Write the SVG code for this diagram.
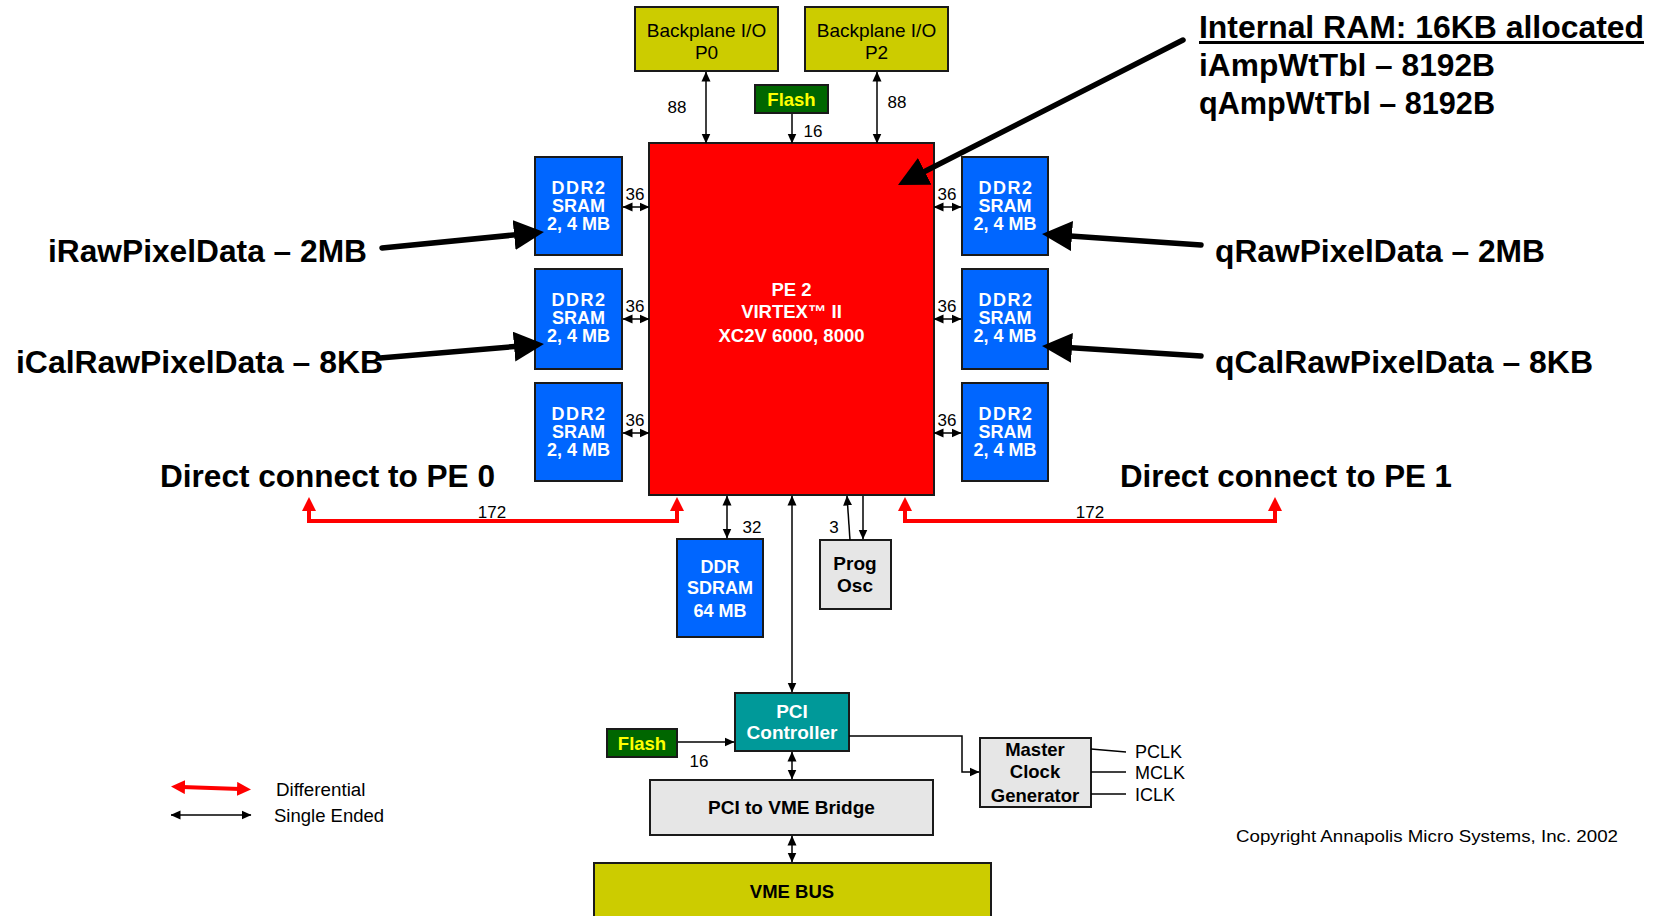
<svg xmlns="http://www.w3.org/2000/svg" width="1657" height="916" viewBox="0 0 1657 916">
<style>
text{font-family:'Liberation Sans',Arial,Helvetica,sans-serif;fill:#000}
.bx{stroke:#1a1a1a;stroke-width:2}
.blue{fill:#0066FF}
.redf{fill:#FF0000}
.olive{fill:#CCCC00}
.gray{fill:#E6E6E6}
.teal{fill:#009999}
.green{fill:#006600}
.b{font-weight:bold}
.w{fill:#FFFFFF}
.y{fill:#FFFF00}
.m{text-anchor:middle}
.s17{font-size:17px}
.s18{font-size:18px}
.s19{font-size:19px}
.box18{font-size:18.5px;font-weight:bold;text-anchor:middle}
.ddr{font-size:18px;font-weight:bold;fill:#FFFFFF;text-anchor:middle}
.num{font-size:17px;text-anchor:middle}
.lab{font-size:31px;font-weight:bold}
.ln{stroke:#000;stroke-width:1.5;fill:none}
.rd{stroke:#FF0000;stroke-width:4;fill:none}
.big{stroke:#000;stroke-width:5.5;stroke-linecap:round;fill:none}
</style>
<defs>
<marker id="ah" viewBox="0 0 10 10" refX="9.5" refY="5" markerWidth="10" markerHeight="10" markerUnits="userSpaceOnUse" orient="auto-start-reverse"><path d="M0,0.5 L10,5 L0,9.5 z" fill="#000"/></marker>
<marker id="ahr" viewBox="0 0 14 14" refX="3" refY="7" markerWidth="14" markerHeight="14" markerUnits="userSpaceOnUse" orient="auto-start-reverse"><path d="M0,0 L14,7 L0,14 z" fill="#FF0000"/></marker>
<marker id="ahb" viewBox="0 0 30 30" refX="20" refY="15" markerWidth="30" markerHeight="30" markerUnits="userSpaceOnUse" orient="auto"><path d="M0,0 L30,15 L0,30 z" fill="#000"/></marker>
</defs>

<g id="bp0"><rect class="bx olive" x="635" y="7" width="143" height="64"/><text class="s19 m" x="706.5" y="37">Backplane I/O</text><text class="s19 m" x="706.5" y="59">P0</text></g>
<g id="bp2"><rect class="bx olive" x="805" y="7" width="143" height="64"/><text class="s19 m" x="876.5" y="37">Backplane I/O</text><text class="s19 m" x="876.5" y="59">P2</text></g>
<g id="flash1"><rect class="bx green" x="755" y="85" width="73" height="28"/><text class="box18 y" x="791.5" y="105.5">Flash</text></g>
<g id="pe2"><rect class="bx redf" x="649" y="143" width="285" height="352"/>
<text class="box18 w" x="791.5" y="296">PE 2</text>
<text class="box18 w" x="791.5" y="318">VIRTEX™ II</text>
<text class="box18 w" x="791.5" y="342">XC2V 6000, 8000</text></g>

<g id="sramL1"><rect class="bx blue" x="535" y="157" width="87" height="98"/><text class="ddr" x="579" y="194" letter-spacing="1.5">DDR2</text><text class="ddr" x="578.5" y="212">SRAM</text><text class="ddr" x="578.5" y="230">2, 4 MB</text></g>
<g id="sramL2"><rect class="bx blue" x="535" y="269" width="87" height="100"/><text class="ddr" x="579" y="306" letter-spacing="1.5">DDR2</text><text class="ddr" x="578.5" y="324">SRAM</text><text class="ddr" x="578.5" y="342">2, 4 MB</text></g>
<g id="sramL3"><rect class="bx blue" x="535" y="383" width="87" height="98"/><text class="ddr" x="579" y="420" letter-spacing="1.5">DDR2</text><text class="ddr" x="578.5" y="438">SRAM</text><text class="ddr" x="578.5" y="456">2, 4 MB</text></g>
<g id="sramR1"><rect class="bx blue" x="962" y="157" width="86" height="98"/><text class="ddr" x="1006" y="194" letter-spacing="1.5">DDR2</text><text class="ddr" x="1005" y="212">SRAM</text><text class="ddr" x="1005" y="230">2, 4 MB</text></g>
<g id="sramR2"><rect class="bx blue" x="962" y="269" width="86" height="100"/><text class="ddr" x="1006" y="306" letter-spacing="1.5">DDR2</text><text class="ddr" x="1005" y="324">SRAM</text><text class="ddr" x="1005" y="342">2, 4 MB</text></g>
<g id="sramR3"><rect class="bx blue" x="962" y="383" width="86" height="98"/><text class="ddr" x="1006" y="420" letter-spacing="1.5">DDR2</text><text class="ddr" x="1005" y="438">SRAM</text><text class="ddr" x="1005" y="456">2, 4 MB</text></g>

<g id="sdram"><rect class="bx blue" x="677" y="539" width="86" height="98"/><text class="ddr y" x="720" y="573">DDR</text><text class="ddr y" x="720" y="594">SDRAM</text><text class="ddr y" x="720" y="617">64 MB</text></g>
<g id="progosc"><rect class="bx gray" x="820" y="540" width="71" height="69"/><text class="box18" x="855" y="570" style="font-size:19px">Prog</text><text class="box18" x="855" y="592" style="font-size:19px">Osc</text></g>
<g id="pcictrl"><rect class="bx teal" x="735" y="693" width="114" height="58"/><text class="box18 w" x="792" y="718" style="font-size:19px">PCI</text><text class="box18 w" x="792" y="739" style="font-size:19px">Controller</text></g>
<g id="flash2"><rect class="bx green" x="607" y="729" width="70" height="28"/><text class="box18 y" x="642" y="749.5">Flash</text></g>
<g id="bridge"><rect class="bx gray" x="650" y="780" width="283" height="55"/><text class="box18" x="791.5" y="814" style="font-size:19px">PCI to VME Bridge</text></g>
<g id="vmebus"><rect class="bx olive" x="594" y="863" width="397" height="70"/><text class="box18" x="792" y="898">VME BUS</text></g>
<g id="mcg"><rect class="bx gray" x="980" y="738" width="111" height="69"/><text class="box18" x="1035" y="756">Master</text><text class="box18" x="1035" y="778">Clock</text><text class="box18" x="1035" y="802">Generator</text></g>
<g id="clocks"><text class="s18" x="1135" y="758">PCLK</text><text class="s18" x="1135" y="779">MCLK</text><text class="s18" x="1135" y="801">ICLK</text></g>

<g id="connectors">
<line class="ln" x1="706" y1="72" x2="706" y2="143" marker-start="url(#ah)" marker-end="url(#ah)"/>
<line class="ln" x1="792" y1="114" x2="792" y2="143" marker-end="url(#ah)"/>
<line class="ln" x1="877" y1="72" x2="877" y2="143" marker-start="url(#ah)" marker-end="url(#ah)"/>
<line class="ln" x1="623" y1="207" x2="649" y2="207" marker-start="url(#ah)" marker-end="url(#ah)"/>
<line class="ln" x1="623" y1="319" x2="649" y2="319" marker-start="url(#ah)" marker-end="url(#ah)"/>
<line class="ln" x1="623" y1="433" x2="649" y2="433" marker-start="url(#ah)" marker-end="url(#ah)"/>
<line class="ln" x1="934" y1="207" x2="961" y2="207" marker-start="url(#ah)" marker-end="url(#ah)"/>
<line class="ln" x1="934" y1="319" x2="961" y2="319" marker-start="url(#ah)" marker-end="url(#ah)"/>
<line class="ln" x1="934" y1="433" x2="961" y2="433" marker-start="url(#ah)" marker-end="url(#ah)"/>
<line class="ln" x1="727" y1="496" x2="727" y2="538" marker-start="url(#ah)" marker-end="url(#ah)"/>
<line class="ln" x1="792" y1="496" x2="792" y2="692" marker-start="url(#ah)" marker-end="url(#ah)"/>
<line class="ln" x1="850" y1="540" x2="847" y2="496" marker-end="url(#ah)"/>
<line class="ln" x1="863" y1="496" x2="863" y2="539" marker-end="url(#ah)"/>
<line class="ln" x1="792" y1="752" x2="792" y2="779" marker-start="url(#ah)" marker-end="url(#ah)"/>
<line class="ln" x1="792" y1="836" x2="792" y2="862" marker-start="url(#ah)" marker-end="url(#ah)"/>
<line class="ln" x1="678" y1="742" x2="734" y2="742" marker-end="url(#ah)"/>
<path class="ln" d="M849,736 H962 V772 H979" marker-end="url(#ah)"/>
<line class="ln" x1="1091" y1="749" x2="1126" y2="752"/>
<line class="ln" x1="1091" y1="772" x2="1126" y2="772"/>
<line class="ln" x1="1091" y1="794" x2="1126" y2="794"/>
<path class="rd" d="M309,508 V521 H677 V508" marker-start="url(#ahr)" marker-end="url(#ahr)"/>
<path class="rd" d="M905,508 V521 H1275 V508" marker-start="url(#ahr)" marker-end="url(#ahr)"/>
<line class="big" x1="1183" y1="40" x2="906.9" y2="180.5" marker-end="url(#ahb)"/>
<line class="big" x1="382" y1="248" x2="534" y2="233" marker-end="url(#ahb)"/>
<line class="big" x1="380" y1="358" x2="534" y2="344.9" marker-end="url(#ahb)"/>
<line class="big" x1="1201" y1="245" x2="1052" y2="234.7" marker-end="url(#ahb)"/>
<line class="big" x1="1201" y1="356" x2="1052" y2="346.6" marker-end="url(#ahb)"/>
<text class="num" x="677" y="113">88</text>
<text class="num" x="897" y="108">88</text>
<text class="num" x="813" y="137">16</text>
<text class="num" x="635" y="200">36</text>
<text class="num" x="635" y="312">36</text>
<text class="num" x="635" y="426">36</text>
<text class="num" x="947" y="200">36</text>
<text class="num" x="947" y="312">36</text>
<text class="num" x="947" y="426">36</text>
<text class="num" x="492" y="518">172</text>
<text class="num" x="1090" y="518">172</text>
<text class="num" x="752" y="533">32</text>
<text class="num" x="834" y="533">3</text>
<text class="num" x="699" y="767">16</text>
</g>

<g id="annotations">
<text class="lab" x="1199" y="38" textLength="445" lengthAdjust="spacingAndGlyphs">Internal RAM: 16KB allocated</text>
<rect x="1199" y="41" width="445" height="3" fill="#000"/>
<text class="lab" x="1199" y="76" textLength="296" lengthAdjust="spacingAndGlyphs">iAmpWtTbl – 8192B</text>
<text class="lab" x="1199" y="114" textLength="296" lengthAdjust="spacingAndGlyphs">qAmpWtTbl – 8192B</text>
<text class="lab" x="48" y="262" textLength="319" lengthAdjust="spacingAndGlyphs">iRawPixelData – 2MB</text>
<text class="lab" x="16" y="373" textLength="367" lengthAdjust="spacingAndGlyphs">iCalRawPixelData – 8KB</text>
<text class="lab" x="1215" y="262" textLength="330" lengthAdjust="spacingAndGlyphs">qRawPixelData – 2MB</text>
<text class="lab" x="1215" y="373" textLength="378" lengthAdjust="spacingAndGlyphs">qCalRawPixelData – 8KB</text>
<text class="lab" x="160" y="487" textLength="335" lengthAdjust="spacingAndGlyphs">Direct connect to PE 0</text>
<text class="lab" x="1120" y="487" textLength="332" lengthAdjust="spacingAndGlyphs">Direct connect to PE 1</text>
</g>

<g id="legend">
<line class="rd" x1="182" y1="787" x2="240" y2="789" marker-start="url(#ahr)" marker-end="url(#ahr)"/>
<line class="ln" x1="171" y1="815" x2="251" y2="815" marker-start="url(#ah)" marker-end="url(#ah)"/>
<text class="s18" x="276" y="796" style="font-size:18.8px">Differential</text>
<text class="s18" x="274" y="822" style="font-size:18.5px">Single Ended</text>
</g>
<text class="s17" x="1236" y="842" textLength="382" lengthAdjust="spacingAndGlyphs">Copyright Annapolis Micro Systems, Inc. 2002</text>
</svg>
